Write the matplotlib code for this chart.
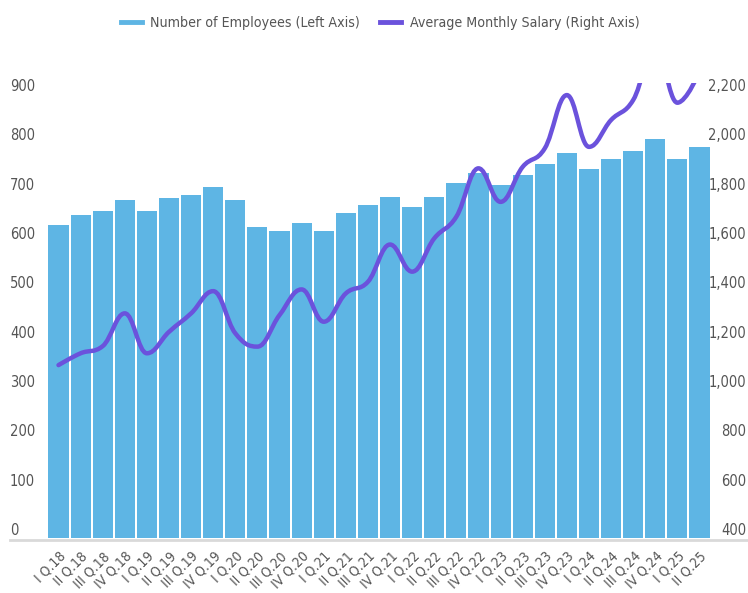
import matplotlib.pyplot as plt
from matplotlib.path import Path
from matplotlib.patches import PathPatch
from matplotlib.lines import Line2D
from matplotlib.transforms import blended_transform_factory
import numpy as np

plt.rcParams['font.family'] = ['DejaVu Sans']
plt.rcParams['font.stretch'] = 'condensed'

quarters = []
for yr in range(18, 26):
    for q in ["I", "II", "III", "IV"]:
        quarters.append(f"{q} Q.{yr}")
quarters = quarters[:30]

employees = [635, 655, 663, 684, 663, 688, 696, 712, 684, 631,
             623, 639, 623, 659, 675, 692, 671, 692, 720, 740,
             716, 736, 757, 781, 748, 769, 785, 809, 769, 793]

salary = [1101, 1149, 1178, 1311, 1149, 1236, 1311, 1401, 1230, 1176,
          1304, 1408, 1277, 1392, 1439, 1590, 1480, 1615, 1703, 1899,
          1763, 1905, 1980, 2196, 1986, 2095, 2176, 2390, 2165, 2290]

left_ticks = list(range(0, 1000, 100))
right_ticks = list(range(400, 2400, 200))

bar_color = "#5eb5e4"
line_color = "#6b52dc"
text_color = "#555555"

W, H = 748, 593
fig = plt.figure(figsize=(W / 100, H / 100), dpi=100)
ax = fig.add_axes([47 / W, (H - 538) / H, (711 - 47) / W, (538 - 83) / H])
ax2 = ax.twinx()

x = np.arange(len(quarters))
ax.bar(x, employees, width=0.91, color=bar_color, zorder=2)
ax.set_xlim(-0.52, len(quarters) - 0.48)
ax.set_ylim(0, 922)
ax2.set_ylim(400, 2245)


# Highcharts-style spline as cubic bezier path
def spline_path(xs, ys, smoothing=1.5):
    n = len(xs)
    lc = [(xs[i], ys[i]) for i in range(n)]
    rc = [(xs[i], ys[i]) for i in range(n)]
    d = smoothing + 1
    for i in range(1, n - 1):
        px, py = xs[i], ys[i]
        lx, ly = xs[i - 1], ys[i - 1]
        nx, ny = xs[i + 1], ys[i + 1]
        lcx = (smoothing * px + lx) / d
        lcy = (smoothing * py + ly) / d
        rcx = (smoothing * px + nx) / d
        rcy = (smoothing * py + ny) / d
        corr = ((rcy - lcy) * (rcx - px)) / (rcx - lcx) + py - rcy
        lcy += corr
        rcy += corr
        if lcy > ly and lcy > py:
            lcy = max(ly, py)
            rcy = 2 * py - lcy
        elif lcy < ly and lcy < py:
            lcy = min(ly, py)
            rcy = 2 * py - lcy
        if rcy > ny and rcy > py:
            rcy = max(ny, py)
            lcy = 2 * py - rcy
        elif rcy < ny and rcy < py:
            rcy = min(ny, py)
            lcy = 2 * py - rcy
        lc[i] = (lcx, lcy)
        rc[i] = (rcx, rcy)
    verts = [(xs[0], ys[0])]
    codes = [Path.MOVETO]
    for i in range(1, n):
        verts += [rc[i - 1], lc[i], (xs[i], ys[i])]
        codes += [Path.CURVE4] * 3
    return Path(verts, codes)


patch = PathPatch(spline_path(list(x), salary), fill=False, edgecolor=line_color,
                  lw=3.2, capstyle="round", joinstyle="round", zorder=3)
ax2.add_patch(patch)

for a in (ax, ax2):
    for s in a.spines.values():
        s.set_visible(False)
    a.set_yticks([])
ax.set_xticks(x)
ax.set_xticklabels(quarters, rotation=45, ha="right", va="top",
                   rotation_mode="anchor", fontsize=10, color=text_color)
ax.tick_params(axis="x", length=0, pad=8)

# y tick labels sit just above their values
tl = blended_transform_factory(fig.transFigure, ax.transData)
for v in left_ticks:
    ax.text(10 / W, v, f"{v}", transform=tl, ha="left", va="bottom",
            fontsize=10.5, color=text_color, clip_on=False)
tr = blended_transform_factory(fig.transFigure, ax2.transData)
for v in right_ticks:
    ax2.text(746 / W, v, f"{v:,}", transform=tr, ha="right", va="bottom",
             fontsize=10.5, color=text_color, clip_on=False)

# bottom baseline
fig.add_artist(Line2D([10 / W, 1.0], [(H - 540) / H] * 2, color="#d9d9d9",
                      lw=2, transform=fig.transFigure))

handles = [Line2D([], [], color=bar_color, lw=3.5),
           Line2D([], [], color=line_color, lw=3.5)]
fig.legend(handles, ["Number of Employees (Left Axis)", "Average Monthly Salary (Right Axis)"],
           loc="center", bbox_to_anchor=(0.508, (H - 23) / H), ncol=2, frameon=False,
           fontsize=10.2, handlelength=1.5, handletextpad=0.6, columnspacing=1.4,
           labelcolor=text_color)

fig.savefig("out.png", dpi=100)
